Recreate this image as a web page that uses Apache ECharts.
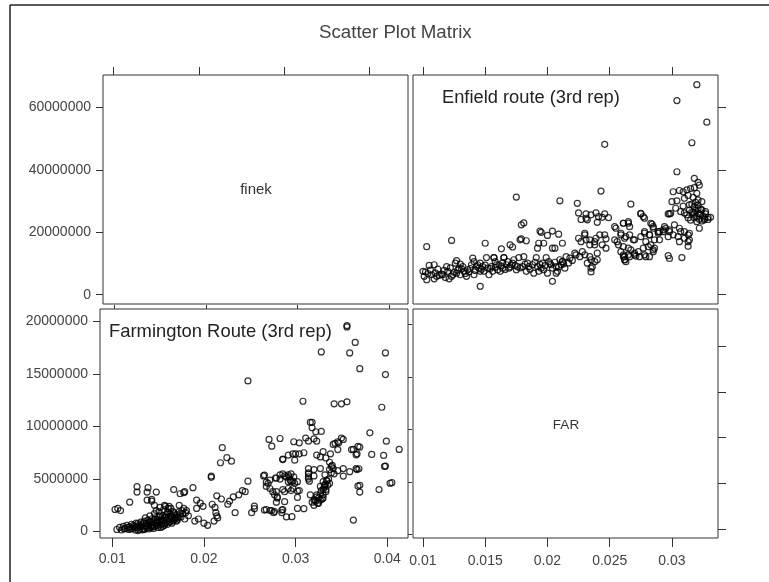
<!DOCTYPE html>
<html>
<head>
<meta charset="utf-8">
<script src="https://cdn.jsdelivr.net/npm/echarts@6/dist/echarts.min.js"></script>
<style>html,body{margin:0;padding:0;background:#fff;}#c{width:769px;height:582px;}</style>
</head>
<body>
<div id="c"></div>
<script>
// ---- tick labels ----
var finekTicks = [0.01, 0.02, 0.03, 0.04];
var farTicks = [0.01, 0.015, 0.02, 0.025, 0.03];
var topRowTicks = [0, 20000000, 40000000, 60000000];
var bottomRowTicks = [0, 5000000, 10000000, 15000000, 20000000];
var diagLabels = ['finek', 'FAR'];
var panelLabels = ['Enfield route (3rd rep)', 'Farmington Route (3rd rep)'];

// ---- Enfield route: [x, y in millions] ----
var enfield = [
[0.0320,67.3],[0.0304,62.2],[0.0328,55.3],[0.0316,48.7],[0.0246,48.2],[0.0304,39.4],[0.0318,37.3],[0.0321,36.0],[0.0322,35.1],
[0.0243,33.2],[0.0175,31.3],[0.0210,30.1],[0.0224,29.3],[0.0267,29.0],
[0.0103,15.4],[0.0123,17.4],[0.0150,16.5],[0.0146,2.7],[0.0204,4.3],[0.0207,6.9],
[0.0179,22.4],[0.0181,23.0],[0.0178,17.6],[0.0183,17.3],[0.0179,17.9],[0.0163,14.7],[0.0170,16.0],[0.0172,15.3],[0.0157,11.9],[0.0165,11.9],
[0.0194,20.4],[0.0195,20.0],[0.0204,20.4],[0.0209,19.4],[0.0200,19.0],
[0.0193,16.5],[0.0197,16.5],[0.0192,14.9],[0.0204,14.9],[0.0206,14.9],[0.0212,16.5],
[0.0231,25.9],[0.0241,25.0],[0.0246,25.9],[0.0249,24.7],[0.0232,24.0],[0.0240,23.2],[0.0254,21.8],[0.0261,22.9],[0.0265,22.9],
[0.0275,25.9],[0.0277,25.0],[0.0284,22.6],[0.0285,21.8],[0.0290,20.2],[0.0298,25.9],
[0.0297,12.5],[0.0298,11.6],[0.0308,11.9],[0.0313,15.5],[0.0262,12.2],[0.0263,10.6],[0.0271,12.4],[0.0279,12.2],
[0.0329,24.8],[0.0322,21.3],
[0.0301,33.0],[0.0306,33.4],[0.0309,33.0],[0.0312,33.6],[0.0315,34.0],[0.0318,34.3],
[0.0300,29.8],[0.0304,30.1],[0.0310,30.9],[0.0317,31.2],[0.0321,30.4],[0.0324,29.8],
[0.0303,27.7],[0.0309,28.4],[0.0314,28.8],[0.0318,28.2],[0.0321,27.7],[0.0324,27.2],[0.0327,26.6],[0.0331,24.8],
[0.0312,25.6],[0.0317,26.2],[0.0320,25.0],[0.0323,25.6],[0.0326,24.5],[0.0315,23.9],[0.0320,23.4],
[0.0299,26.1],[0.0297,25.9],[0.0307,26.6],[0.0314,27.1],
[0.0316,29.0],[0.0319,27.0],[0.0322,26.0],[0.0325,25.2],[0.0318,24.6],[0.0322,24.2],[0.0326,24.0],[0.0329,24.1],[0.0320,32.5],[0.0313,31.8],
[0.0316,26.5],[0.0319,29.6],[0.0321,28.7],[0.0323,27.4],[0.0318,25.8],[0.0324,23.6],[0.0327,25.9],[0.0313,24.6],[0.0310,26.2],
[0.0225,26.2],[0.0227,24.1],[0.0231,24.5],[0.0235,25.6],[0.0239,26.2],[0.0244,24.8],
[0.0230,19.2],[0.0231,17.6],[0.0234,16.0],[0.0238,17.0],[0.0239,18.1],[0.0242,19.2],[0.0246,19.2],[0.0247,17.9],[0.0244,16.0],[0.0247,14.9],
[0.0212,10.6],[0.0218,11.7],[0.0223,12.8],[0.0228,13.8],[0.0234,12.2],[0.0238,10.6],[0.0240,11.2],[0.0235,8.5],[0.0235,7.3],
[0.0255,21.3],[0.0261,22.9],[0.0265,23.4],[0.0266,21.8],[0.0259,19.2],[0.0262,18.1],[0.0266,19.2],[0.0269,17.6],[0.0256,17.0],[0.0261,15.4],
[0.0265,14.9],[0.0261,12.8],[0.0262,11.2],[0.0266,12.2],[0.0270,12.8],[0.0274,12.2],[0.0278,12.8],
[0.0275,26.1],[0.0278,24.5],[0.0283,22.9],[0.0285,21.3],[0.0278,20.2],[0.0282,19.2],[0.0279,17.0],[0.0283,16.0],[0.0286,14.9],
[0.0289,20.2],[0.0293,20.8],[0.0290,17.6],[0.0295,21.3],[0.0298,20.2],[0.0301,19.2],[0.0305,18.6],[0.0307,20.2],[0.0310,18.1],[0.0314,19.7],[0.0313,17.0],[0.0306,17.0],
[0.0285,13.8],[0.0282,12.2],
[0.0100,7.5],[0.0102,7.3],[0.0101,5.9],[0.0107,6.4],[0.0105,9.4],[0.0109,9.6],[0.0111,5.9],[0.0115,6.6],[0.0118,5.5],[0.0119,9.0],
[0.0120,7.5],[0.0123,5.9],[0.0124,6.4],[0.0126,10.1],[0.0127,10.9],[0.0129,8.5],[0.0132,9.0],[0.0133,7.5],[0.0135,5.9],[0.0136,8.0],
[0.0139,9.6],[0.0140,11.7],[0.0141,10.6],[0.0144,9.6],[0.0145,8.5],[0.0148,9.0],[0.0149,7.5],[0.0151,11.9],[0.0153,6.4],[0.0155,9.0],
[0.0157,11.9],[0.0160,8.0],[0.0161,9.6],[0.0164,8.5],[0.0165,11.9],[0.0167,9.6],[0.0168,10.6],[0.0169,8.5],[0.0172,10.1],[0.0175,8.0],
[0.0176,9.0],[0.0177,11.9],[0.0181,12.2],[0.0184,10.1],[0.0185,9.0],[0.0188,9.6],[0.0191,11.9],[0.0192,9.0],[0.0195,8.5],[0.0196,10.1],
[0.0199,11.9],[0.0201,10.6],[0.0204,8.5],[0.0207,9.0],[0.0210,11.2],[0.0212,10.6],[0.0215,12.2],
[0.0103,4.8],[0.0109,5.1],[0.0116,6.4],[0.0121,5.1],[0.0127,6.9],[0.0130,6.4],[0.0137,7.3],[0.0141,6.4],[0.0146,7.5],[0.0152,8.5],
[0.0156,7.5],[0.0159,9.6],[0.0162,7.5],[0.0171,9.6],[0.0173,11.2],[0.0180,9.0],[0.0183,7.5],[0.0189,6.9],[0.0193,7.5],[0.0197,8.0],
[0.0200,6.9],[0.0203,9.6],[0.0208,7.5],[0.0214,8.5],[0.0211,9.6],
[0.0104,6.8],[0.0106,7.9],[0.0110,7.0],[0.0112,8.2],[0.0113,6.2],[0.0117,7.8],[0.0122,8.6],[0.0125,7.2],[0.0128,7.9],[0.0131,8.3],
[0.0134,6.8],[0.0138,8.4],[0.0142,7.8],[0.0143,9.1],[0.0147,8.2],[0.0150,9.5],[0.0154,8.4],[0.0158,8.8],[0.0163,9.2],[0.0166,8.1],
[0.0170,8.9],[0.0174,9.4],[0.0178,8.6],[0.0182,9.8],[0.0186,8.2],[0.0190,10.4],[0.0194,9.7],[0.0198,9.3],[0.0202,9.9],[0.0206,10.4],
[0.0209,8.9],[0.0213,9.9],[0.0217,10.2],[0.0220,11.0],[0.0164,10.3],[0.0158,10.6],[0.0146,10.1],[0.0130,9.8],
[0.0222,13.3],[0.0226,12.2],[0.0230,12.8],[0.0232,10.1],[0.0235,11.2],[0.0236,9.0],[0.0240,13.3],[0.0238,16.0],[0.0234,17.6],[0.0227,17.0],[0.0230,19.7],[0.0225,18.1],
[0.0254,17.6],[0.0257,16.0],[0.0259,13.8],[0.0261,12.2],[0.0262,11.2],[0.0265,12.8],[0.0267,14.4],[0.0270,13.3],[0.0273,13.8],[0.0277,14.9],
[0.0281,15.4],[0.0285,14.4],[0.0286,17.6],[0.0289,19.7],[0.0293,20.2],[0.0259,19.7],[0.0263,18.6],[0.0270,17.6],[0.0275,18.6],[0.0278,19.7],[0.0282,19.2],
[0.0294,21.8],[0.0298,20.8],[0.0302,22.4],[0.0306,21.3],[0.0310,20.2],[0.0313,19.2],[0.0314,17.6],[0.0297,18.6]
];

// ---- Farmington route: [x, y in millions] ----
var farmington = [
[0.0356,19.47],[0.0356,19.6],[0.0365,18.0],[0.0328,17.1],[0.0359,17.0],[0.0398,17.0],[0.0370,15.5],[0.0398,14.94],[0.0248,14.34],
[0.0308,12.4],[0.0342,12.16],[0.0350,12.16],[0.0356,12.35],[0.0394,11.83],[0.0318,10.4],[0.0318,9.88],[0.0328,9.53],[0.0381,9.4],
[0.0320,8.83],[0.0323,8.6],[0.0271,8.77],[0.0274,8.13],[0.0283,8.86],[0.0304,8.45],[0.0341,8.29],[0.0347,8.45],[0.0352,8.77],
[0.0363,7.82],[0.0370,8.04],[0.0399,8.6],[0.0413,7.82],[0.0383,7.34],[0.0396,7.25],[0.0367,7.4],[0.0398,6.23],[0.0369,5.98],[0.0367,5.9],
[0.0352,5.28],[0.0405,4.65],[0.0391,4.0],[0.0368,4.33],[0.0370,3.76],[0.0363,1.1],
[0.0220,7.98],[0.0225,7.03],[0.0230,6.7],[0.0218,6.55],[0.0208,5.28],[0.0208,5.16],[0.0248,4.8],[0.0188,4.18],
[0.0127,4.27],[0.0139,4.18],[0.0148,3.76],[0.0138,3.76],[0.0143,3.07],[0.0127,3.76],[0.0167,4.0],[0.0178,3.7],[0.0174,3.6],[0.0179,3.8],
[0.0103,2.1],[0.0106,2.2],[0.0109,2.0],[0.0119,2.8],[0.0138,3.0],[0.0143,2.9],[0.0146,2.5],[0.0157,2.5],[0.0162,2.4],[0.0173,2.5],[0.0178,2.2],[0.0180,1.8],
[0.0192,3.0],[0.0196,2.7],[0.0199,2.4],[0.0192,2.2],[0.0194,1.2],[0.0200,0.8],[0.0204,0.6],[0.0190,1.0],[0.0213,1.8],[0.0214,1.5],[0.0215,1.3],[0.0211,1.0],
[0.0214,3.4],[0.0219,3.1],[0.0209,2.6],[0.0212,2.3],[0.0232,3.3],[0.0238,3.5],[0.0245,3.8],[0.0242,3.9],[0.0228,2.9],[0.0226,2.6],
[0.0255,2.43],[0.0255,2.18],[0.0252,1.8],[0.0234,1.8],[0.0268,2.1],[0.0274,2.0],[0.0276,1.8],[0.0285,1.8],[0.0286,2.1],[0.0296,1.42],
[0.0265,5.3],[0.0268,4.7],[0.0272,4.9],[0.0278,5.1],[0.0283,5.0],[0.0288,5.3],[0.0293,5.2],[0.0295,4.8],[0.0268,4.3],[0.0275,3.8],[0.0280,3.3],[0.0279,2.8],[0.0288,3.8],
[0.0302,3.86],[0.0302,3.25],[0.0309,2.18],[0.0314,5.6],[0.0314,5.2],[0.0315,4.8],[0.0320,5.9],[0.0320,5.3],
[0.0318,2.8],[0.0320,3.0],[0.0322,2.9],[0.0323,3.3],[0.0325,3.2],[0.0327,3.6],[0.0328,3.9],[0.0330,3.5],[0.0331,4.2],[0.0332,4.5],
[0.0333,4.0],[0.0334,4.8],[0.0335,4.4],[0.0336,5.0],[0.0337,4.6],[0.0324,2.7],[0.0329,3.1],[0.0333,3.8],
[0.0337,6.6],[0.0339,6.2],[0.0337,5.9],[0.0339,5.6],[0.0333,7.0],[0.0338,7.4],[0.0300,7.4],[0.0304,7.4],[0.0309,7.5],[0.0299,6.8],[0.0297,4.8],[0.0299,4.6],
[0.0286,6.9],[0.0286,6.85],[0.0292,7.28],[0.0297,7.4],[0.0298,8.55],[0.0311,8.9],[0.0314,8.6],[0.0322,9.5],[0.0316,10.4],[0.0327,7.1],[0.0323,7.28],
[0.0343,8.4],[0.0346,8.55],[0.0350,8.9],[0.0330,7.6],[0.0346,7.8],[0.0361,7.8],[0.0368,8.1],[0.0366,7.3],[0.0397,6.2],[0.0403,4.6],[0.0370,4.4],
[0.0359,5.7],[0.0366,6.0],[0.0314,6.0],[0.0314,5.5],[0.0314,5.0],[0.0340,6.3],[0.0341,6.0],[0.0342,5.5],[0.0327,6.0],[0.0346,5.8],[0.0352,6.0],
[0.0292,5.4],[0.0294,4.9],[0.0298,5.2],[0.0302,4.75],[0.0297,4.1],[0.0304,3.9],[0.0316,3.5],[0.0323,3.5],[0.0321,3.0],[0.0330,4.75],[0.0327,4.3],
[0.0330,4.0],[0.0332,4.4],[0.0334,4.9],[0.0332,5.4],[0.0320,2.5],[0.0325,2.7],[0.0327,3.0],[0.0330,3.2],[0.0302,2.2],[0.0290,1.4],
[0.0266,5.38],[0.0270,4.6],[0.0272,4.1],[0.0279,5.1],[0.0283,5.4],[0.0286,5.5],[0.0290,5.2],[0.0292,4.75],[0.0295,5.5],
[0.0279,3.8],[0.0277,3.5],[0.0280,3.2],[0.0286,4.0],[0.0288,2.85],[0.0292,4.1],[0.0295,3.9],[0.0266,2.05],[0.0272,2.0],[0.0277,1.9],[0.0285,2.05],
[0.0105,0.2],[0.0108,0.4],[0.0110,0.15],[0.0112,0.5],[0.0114,0.3],[0.0116,0.6],[0.0118,0.2],[0.0119,0.45],[0.0121,0.7],[0.0122,0.3],
[0.0124,0.5],[0.0125,0.15],[0.0126,0.8],[0.0127,0.35],[0.0129,0.6],[0.0130,0.2],[0.0131,0.9],[0.0132,0.45],[0.0133,0.7],[0.0134,0.3],
[0.0135,1.0],[0.0136,0.55],[0.0137,0.8],[0.0138,0.35],[0.0139,1.1],[0.0140,0.6],[0.0141,0.9],[0.0142,0.4],[0.0143,1.2],[0.0144,0.7],
[0.0145,1.0],[0.0146,0.5],[0.0147,1.3],[0.0148,0.8],[0.0149,1.1],[0.0150,0.6],[0.0151,1.4],[0.0152,0.9],[0.0153,1.2],[0.0154,0.7],
[0.0155,1.5],[0.0156,1.0],[0.0157,1.3],[0.0158,0.8],[0.0159,1.6],[0.0160,1.1],[0.0161,1.4],[0.0162,0.9],[0.0163,1.7],[0.0164,1.2],
[0.0165,1.5],[0.0166,1.0],[0.0167,1.8],[0.0168,1.3],[0.0170,1.6],[0.0171,1.1],[0.0173,1.9],[0.0175,1.4],[0.0177,1.7],[0.0179,1.2],
[0.0181,2.0],[0.0183,1.5],[0.0128,0.1],[0.0133,0.15],[0.0140,0.25],[0.0145,0.3],[0.0150,0.4],[0.0155,0.5],[0.0160,0.7],[0.0165,0.8],
[0.0170,1.0],[0.0136,1.3],[0.0141,1.5],[0.0146,1.7],[0.0151,1.9],[0.0156,2.1],[0.0161,2.2],[0.0152,2.3],[0.0148,2.0],[0.0158,2.4],[0.0164,2.2],
[0.0113,0.25],[0.0117,0.4],[0.0120,0.25],[0.0123,0.6],[0.0126,0.45],[0.0128,0.75],[0.0131,0.55],[0.0134,0.85],[0.0137,0.5],[0.0139,0.75],
[0.0142,0.95],[0.0144,0.45],[0.0146,1.15],[0.0148,0.6],[0.0150,1.0],[0.0152,1.5],[0.0154,1.1],[0.0156,0.75],[0.0158,1.4],[0.0160,1.8],
[0.0162,1.2],[0.0164,1.5],[0.0166,1.9],[0.0168,1.6],[0.0169,1.2],[0.0172,1.4],[0.0174,1.7],[0.0176,2.0],[0.0135,0.2],[0.0143,0.55],
[0.0149,0.85],[0.0153,0.4],[0.0157,0.6],[0.0163,0.95],[0.0167,1.1],[0.0171,1.3]
];

var FONT = '"Liberation Sans", Arial, sans-serif';
var M = 1000000;
function toPts(arr) { return arr.map(function (p) { return [p[0], p[1] * M]; }); }
function xLab(v) { return String(+(+v).toFixed(3)); }
function yLab(v) { return String(Math.round(v)); }

var tickStyle = { color: '#333', width: 1 };
var labStyle = { color: '#444', fontSize: 14, fontFamily: FONT };

function axisBase(o) {
  return {
    type: 'value', min: o.min, max: o.max, gridIndex: o.grid, position: o.pos,
    axisLine: { show: false, onZero: false }, splitLine: { show: false },
    axisTick: { show: true, inside: false, length: o.len, lineStyle: tickStyle, customValues: o.ticks },
    axisLabel: o.labels ? Object.assign({ show: true, margin: o.margin, formatter: o.fmt, customValues: o.ticks }, labStyle) : { show: false }
  };
}

var chart = echarts.init(document.getElementById('c'), null, { renderer: 'canvas' });
var gridStyle = { show: true, borderColor: '#333', borderWidth: 1, backgroundColor: '#fff', containLabel: false };
var markerStyle = { color: 'rgba(0,0,0,0)', borderColor: '#000', borderWidth: 1.2 };
chart.setOption({
  animation: false,
  backgroundColor: '#fff',
  grid: [
    Object.assign({ left: 103, top: 75, width: 305, height: 229 }, gridStyle),
    Object.assign({ left: 413, top: 75, width: 305, height: 229 }, gridStyle),
    Object.assign({ left: 100, top: 309, width: 308, height: 229 }, gridStyle),
    Object.assign({ left: 413, top: 309, width: 305, height: 229 }, gridStyle)
  ],
  xAxis: [
    axisBase({ grid: 0, pos: 'top', min: 0.00878, max: 0.04449, len: 8, ticks: finekTicks }),
    axisBase({ grid: 1, pos: 'top', min: 0.0092, max: 0.0337, len: 8, ticks: farTicks }),
    axisBase({ grid: 2, pos: 'bottom', min: 0.00866, max: 0.04226, len: 9, ticks: finekTicks, labels: true, margin: 14, fmt: xLab }),
    axisBase({ grid: 2, pos: 'top', min: 0.00845, max: 0.04205, len: 4, ticks: finekTicks }),
    axisBase({ grid: 3, pos: 'bottom', min: 0.0092, max: 0.0337, len: 9, ticks: farTicks, labels: true, margin: 16, fmt: xLab })
  ],
  yAxis: [
    axisBase({ grid: 0, pos: 'left', min: -2970000, max: 70400000, len: 7, ticks: topRowTicks, labels: true, margin: 12, fmt: yLab }),
    axisBase({ grid: 1, pos: 'right', min: -2970000, max: 70400000, len: 8, ticks: topRowTicks }),
    axisBase({ grid: 2, pos: 'left', min: -610000, max: 21180000, len: 7, ticks: bottomRowTicks, labels: true, margin: 12, fmt: yLab }),
    axisBase({ grid: 2, pos: 'right', min: -330000, max: 21450000, len: 4, ticks: bottomRowTicks }),
    axisBase({ grid: 3, pos: 'right', min: -980000, max: 24090000, len: 8, ticks: bottomRowTicks })
  ],
  series: [
    { type: 'scatter', xAxisIndex: 1, yAxisIndex: 1, data: toPts(enfield), symbol: 'circle', symbolSize: 6, itemStyle: markerStyle, silent: true },
    { type: 'scatter', xAxisIndex: 2, yAxisIndex: 2, data: toPts(farmington), symbol: 'circle', symbolSize: 6, itemStyle: markerStyle, silent: true }
  ],
  graphic: [
    { type: 'line', shape: { x1: 10, y1: 5, x2: 769, y2: 5 }, style: { stroke: '#222', lineWidth: 1.5 }, silent: true },
    { type: 'line', shape: { x1: 10, y1: 5, x2: 10, y2: 582 }, style: { stroke: '#222', lineWidth: 1.5 }, silent: true },
    { type: 'text', left: 319, top: 23, style: { text: 'Scatter Plot Matrix', fontSize: 18.7, fontFamily: FONT, fill: '#444' }, silent: true },
    { type: 'text', x: 256, y: 190, style: { text: diagLabels[0], fontSize: 15, fontFamily: FONT, fill: '#333', align: 'center', verticalAlign: 'middle' }, silent: true },
    { type: 'text', x: 566, y: 425, style: { text: diagLabels[1], fontSize: 13.5, fontFamily: FONT, fill: '#333', align: 'center', verticalAlign: 'middle' }, silent: true },
    { type: 'text', x: 442, y: 98, style: { text: panelLabels[0], fontSize: 18.3, fontFamily: FONT, fill: '#222', align: 'left', verticalAlign: 'middle' }, silent: true },
    { type: 'text', x: 109, y: 332, style: { text: panelLabels[1], fontSize: 18.4, fontFamily: FONT, fill: '#222', align: 'left', verticalAlign: 'middle' }, silent: true }
  ]
});
</script>
</body>
</html>
